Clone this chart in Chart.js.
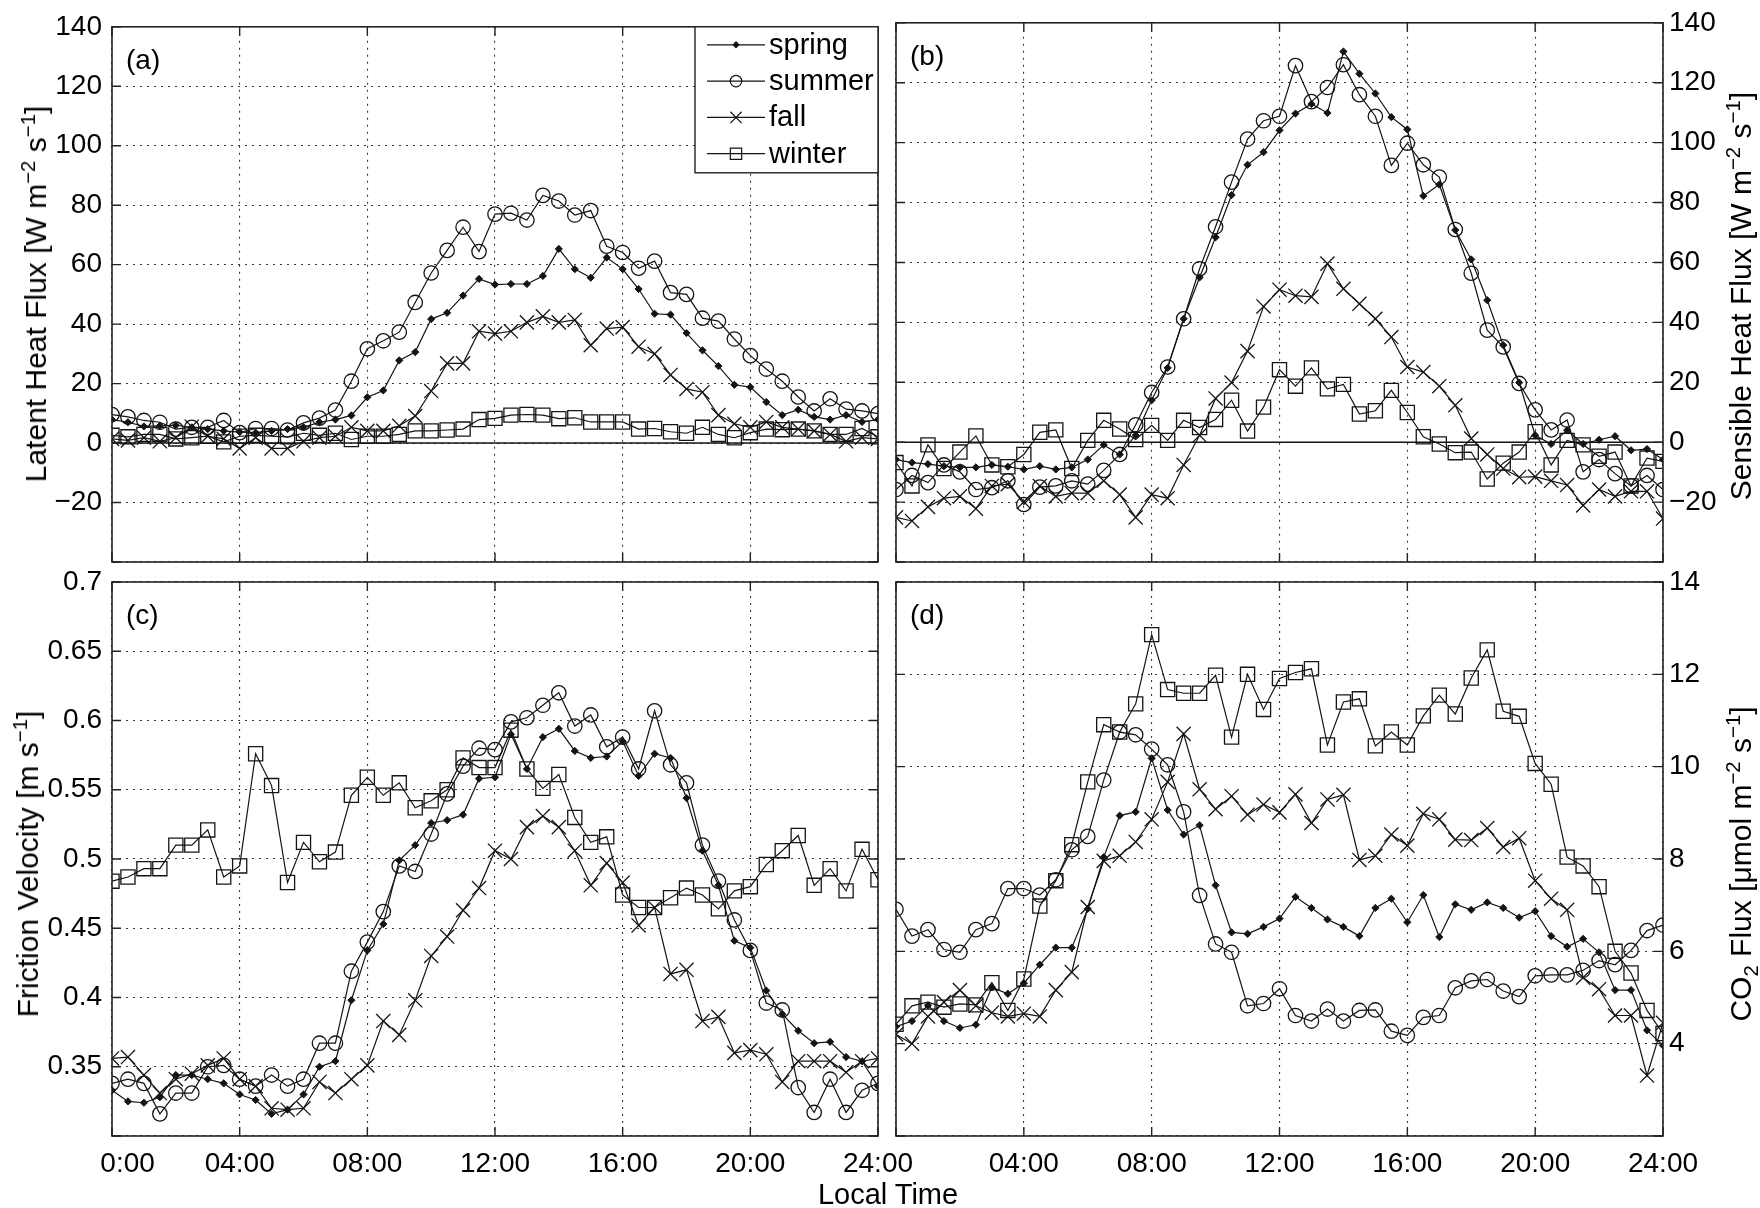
<!DOCTYPE html>
<html><head><meta charset="utf-8">
<script src="https://cdn.jsdelivr.net/npm/chart.js@4.4.1/dist/chart.umd.min.js"></script>
<style>
html,body{margin:0;padding:0;background:#fff;}
#wrap{position:relative;width:1760px;height:1208px;overflow:hidden;background:#fff;}
#wrap canvas{position:absolute;left:0;top:0;width:1760px;height:1208px;}
.t{position:absolute;font-family:"Liberation Sans",Arial,Helvetica,sans-serif;font-size:30px;color:#000;white-space:nowrap;line-height:1;}
.rot{transform:translate(-50%,-50%) rotate(-90deg);}
.ctr{transform:translate(-50%,-50%);}
sup,sub{font-size:0.68em;line-height:0;}
</style></head><body>
<div id="wrap">
<canvas id="ca" width="1760" height="1208"></canvas>
<canvas id="cb" width="1760" height="1208"></canvas>
<canvas id="cc" width="1760" height="1208"></canvas>
<canvas id="cd" width="1760" height="1208"></canvas>
<div class="t rot" style="left:36px;top:294px">Latent Heat Flux [W m<sup>−2</sup> s<sup>−1</sup>]</div>
<div class="t rot" style="left:1741px;top:296px">Sensible Heat Flux [W m<sup>−2</sup> s<sup>−1</sup>]</div>
<div class="t rot" style="left:28px;top:864px">Friction Velocity [m s<sup>−1</sup>]</div>
<div class="t rot" style="left:1741px;top:864px">CO<sub>2</sub> Flux [μmol m<sup>−2</sup> s<sup>−1</sup>]</div>
<div class="t ctr" style="left:888px;top:1194px;font-size:29px">Local Time</div>
</div>
<script>
// ---------- categories / ticks ----------
const hours = [0,0.5,1,1.5,2,2.5,3,3.5,4,4.5,5,5.5,6,6.5,7,7.5,8,8.5,9,9.5,10,10.5,11,11.5,
               12,12.5,13,13.5,14,14.5,15,15.5,16,16.5,17,17.5,18,18.5,19,19.5,20,20.5,21,21.5,22,22.5,23,23.5,24];
const seasons = ['spring','summer','fall','winter'];
const xTickValues = [0,4,8,12,16,20,24];
const xTickLabels = ['0:00','04:00','08:00','12:00','16:00','20:00','24:00'];
const fluxTicks = [-40,-20,0,20,40,60,80,100,120,140];
const fluxTickLabels = ['','−20','0','20','40','60','80','100','120','140'];
const ustarTicks = [0.3,0.35,0.4,0.45,0.5,0.55,0.6,0.65,0.7];
const ustarTickLabels = ['','0.35','0.4','0.45','0.5','0.55','0.6','0.65','0.7'];
const co2Ticks = [2,4,6,8,10,12,14];
const co2TickLabels = ['','4','6','8','10','12','14'];

// ---------- (a) latent heat flux ----------
const latentSpring = [7.9,7.0,5.6,5.8,6.0,5.3,4.7,4.1,3.7,3.5,4.1,4.7,5.3,7.0,7.9,9.3,15.4,17.7,27.8,30.6,41.7,43.8,49.6,55.2,
  53.3,53.5,53.5,56.2,65.3,58.5,55.6,62.4,58.5,51.8,43.5,43.2,37.0,31.2,25.9,19.6,18.8,13.8,9.4,11.2,8.8,7.9,9.4,7.1,7.9];
const latentSummer = [9.6,8.8,7.6,7.0,4.7,5.3,5.3,7.6,3.5,4.9,4.9,4.4,6.8,8.4,11.1,20.8,31.7,34.4,37.3,47.3,57.2,64.8,72.6,64.4,
  77.0,77.3,75.0,83.3,81.4,76.7,78.2,66.2,64.1,58.8,61.2,50.6,50.0,42.0,41.0,35.0,29.4,24.9,20.8,15.5,10.8,14.9,11.4,10.8,9.9];
const latentFall = [1.4,0.9,1.8,0.6,1.8,5.5,2.3,1.4,-1.8,1.8,-1.8,-1.8,0.6,1.8,2.3,5.3,4.1,4.1,5.8,9.1,17.5,26.8,26.8,37.6,
  36.8,37.6,40.6,42.6,40.6,41.4,32.9,38.5,39.0,32.4,30.0,22.9,18.2,17.1,9.4,6.5,5.3,7.1,5.3,4.7,4.1,2.9,0.6,1.8,1.4];
const latentWinter = [2.6,2.1,2.9,2.9,1.4,1.8,2.3,0.4,2.3,2.6,2.3,2.1,3.3,2.6,3.3,1.2,2.3,2.3,2.9,4.1,4.1,4.4,4.7,7.9,
  8.3,9.4,9.6,9.4,8.2,8.5,7.1,7.1,7.1,4.7,4.9,3.8,3.3,5.3,2.9,1.8,3.5,4.7,4.5,4.7,4.1,2.9,2.9,4.9,2.1];

// ---------- (b) sensible heat flux ----------
const sensibleSpring = [-5.8,-6.8,-7.3,-8.0,-8.4,-8.4,-7.6,-8.2,-9.1,-8.0,-9.1,-8.4,-5.8,-0.9,-4.1,2.3,14.0,24.8,41.2,55.0,68.4,82.5,92.6,96.8,
  104.1,109.7,112.9,109.9,130.4,123.0,116.4,108.5,104.4,82.2,86.0,70.8,61.0,47.4,32.4,19.9,2.3,-0.6,4.0,-0.6,0.8,2.0,-2.7,-2.3,-5.8];
const sensibleSummer = [-15.8,-11.1,-13.5,-7.6,-9.9,-15.8,-15.2,-12.9,-20.8,-15.0,-14.6,-12.9,-14.0,-9.4,-4.1,5.8,16.6,25.1,41.2,57.9,71.9,86.8,101.2,107.3,
  108.8,125.7,113.7,118.4,126.0,116.0,108.8,92.4,99.8,92.6,88.5,71.0,56.4,37.4,31.8,19.6,10.8,4.1,7.4,-9.9,-5.8,-10.5,-14.6,-11.1,-15.8];
const sensibleFall = [-25.1,-26.3,-21.6,-18.7,-18.1,-22.2,-14.6,-14.0,-19.9,-14.6,-18.1,-17.0,-17.0,-12.9,-17.5,-25.1,-17.5,-18.7,-7.6,2.3,14.6,19.9,30.4,45.3,
  50.9,48.9,48.5,59.6,51.2,46.2,41.2,35.1,25.1,23.4,18.7,12.3,1.2,-4.1,-8.8,-11.7,-11.5,-12.9,-14.3,-21.1,-15.8,-18.1,-16.4,-16.4,-25.5];
const sensibleWinter = [-6.8,-14.6,-0.9,-8.8,-3.3,2.1,-7.6,-8.2,-4.1,3.3,4.1,-8.8,0.6,7.3,4.4,0.9,5.6,0.6,7.3,4.9,7.6,14.0,3.7,11.7,
  24.2,18.7,24.8,17.8,19.3,9.4,10.5,17.3,9.9,1.8,-0.6,-3.5,-3.3,-12.3,-7.0,-3.3,3.5,-7.6,0.6,-0.9,-4.7,-3.3,-14.6,-5.3,-6.4];

// ---------- (c) friction velocity ----------
const ustarSpring = [0.333,0.325,0.324,0.328,0.344,0.344,0.341,0.338,0.330,0.326,0.316,0.319,0.330,0.350,0.354,0.398,0.434,0.453,0.499,0.510,0.526,0.528,0.532,0.558,
  0.559,0.590,0.565,0.588,0.594,0.578,0.573,0.574,0.585,0.560,0.576,0.573,0.544,0.506,0.481,0.441,0.436,0.405,0.388,0.376,0.367,0.368,0.357,0.354,0.336];
const ustarSummer = [0.338,0.341,0.338,0.316,0.331,0.331,0.350,0.351,0.341,0.336,0.344,0.336,0.341,0.367,0.367,0.419,0.440,0.462,0.495,0.491,0.518,0.547,0.567,0.580,
  0.579,0.599,0.602,0.611,0.620,0.596,0.604,0.581,0.588,0.565,0.607,0.568,0.555,0.510,0.484,0.456,0.434,0.396,0.391,0.335,0.317,0.341,0.317,0.333,0.338];
const ustarFall = [0.356,0.357,0.344,0.331,0.341,0.345,0.351,0.356,0.341,0.336,0.320,0.319,0.320,0.339,0.331,0.341,0.351,0.383,0.373,0.398,0.430,0.444,0.463,0.479,
  0.506,0.500,0.523,0.531,0.523,0.506,0.481,0.497,0.483,0.452,0.465,0.417,0.420,0.383,0.386,0.360,0.362,0.359,0.339,0.354,0.354,0.354,0.346,0.354,0.356];
const ustarWinter = [0.484,0.487,0.493,0.493,0.510,0.510,0.521,0.487,0.495,0.576,0.553,0.483,0.512,0.498,0.505,0.546,0.559,0.546,0.555,0.537,0.542,0.550,0.573,0.566,
  0.566,0.593,0.565,0.551,0.561,0.530,0.512,0.516,0.474,0.465,0.465,0.472,0.479,0.474,0.464,0.477,0.480,0.496,0.506,0.517,0.481,0.493,0.477,0.507,0.485];

// ---------- (d) CO2 flux ----------
const co2Spring = [4.37,4.49,4.83,4.49,4.34,4.41,5.22,5.08,5.31,5.71,6.08,6.08,6.92,8.04,8.94,9.02,10.18,9.06,8.53,8.73,7.43,6.41,6.38,6.53,
  6.71,7.18,6.94,6.69,6.53,6.33,6.94,7.14,6.63,7.22,6.31,7.02,6.90,7.06,6.94,6.73,6.87,6.33,6.10,6.27,5.98,5.16,5.16,4.29,3.96];
const co2Summer = [6.91,6.33,6.47,6.04,5.98,6.47,6.60,7.36,7.36,7.22,7.55,8.20,8.49,9.71,10.75,10.69,10.38,10.04,9.02,7.21,6.16,5.98,4.82,4.87,
  5.19,4.61,4.49,4.75,4.49,4.72,4.73,4.27,4.18,4.57,4.61,5.21,5.36,5.39,5.14,5.02,5.47,5.49,5.49,5.59,5.80,5.71,6.02,6.45,6.57];
const co2Fall = [4.20,4.00,4.59,4.90,5.16,4.82,4.67,4.59,4.65,4.59,5.16,5.55,6.96,7.96,8.07,8.37,8.86,9.67,10.71,9.51,9.08,9.36,8.96,9.18,
  9.01,9.40,8.78,9.29,9.39,7.98,8.07,8.53,8.29,8.98,8.86,8.42,8.41,8.67,8.26,8.45,7.53,7.14,6.90,5.43,5.18,4.61,4.61,3.31,4.45];
const co2Winter = [4.42,4.82,4.90,4.79,4.86,4.84,5.32,4.72,5.40,6.98,7.53,8.31,9.67,10.91,10.75,11.36,12.86,11.67,11.59,11.59,11.98,10.64,12.00,11.24,
  11.91,12.04,12.12,10.47,11.40,11.47,10.45,10.75,10.47,11.10,11.55,11.14,11.92,12.53,11.20,11.09,10.07,9.62,8.04,7.85,7.40,6.00,5.53,4.72,4.22];

// ---------- styles ----------
const FONT = '"Liberation Sans", Arial, Helvetica, sans-serif';
const INK = '#141414';
const markerStyle = {
  spring: {pointStyle:'rectRot', pointRadius:3.6, pointBackgroundColor:INK, pointBorderColor:INK, pointBorderWidth:1},
  summer: {pointStyle:'circle', pointRadius:7.2, pointBackgroundColor:'rgba(0,0,0,0)', pointBorderColor:INK, pointBorderWidth:1.3},
  fall:   {pointStyle:'crossRot', pointRadius:10, pointBackgroundColor:'rgba(0,0,0,0)', pointBorderColor:INK, pointBorderWidth:1.3},
  winter: {pointStyle:'rect', pointRadius:10, pointBackgroundColor:'rgba(0,0,0,0)', pointBorderColor:INK, pointBorderWidth:1.3}
};

const framePlugin = {
  id: 'frame',
  beforeDatasetsDraw(chart, args, o) {
    const {ctx, chartArea: ca, scales} = chart;
    if (o.zero) {
      const y = scales.y.getPixelForValue(0);
      ctx.save(); ctx.strokeStyle = INK; ctx.lineWidth = 1.6;
      ctx.beginPath(); ctx.moveTo(ca.left, y); ctx.lineTo(ca.right, y); ctx.stroke(); ctx.restore();
    }
  },
  afterDraw(chart, args, o) {
    const {ctx, chartArea: ca, scales} = chart;
    ctx.save();
    ctx.strokeStyle = '#222'; ctx.lineWidth = 1.6;
    ctx.strokeRect(ca.left, ca.top, ca.right - ca.left, ca.bottom - ca.top);
    ctx.lineWidth = 1.4;
    const L = 9;
    scales.x.ticks.forEach(t => {
      const x = scales.x.getPixelForValue(t.value);
      ctx.beginPath(); ctx.moveTo(x, ca.bottom); ctx.lineTo(x, ca.bottom - L);
      ctx.moveTo(x, ca.top); ctx.lineTo(x, ca.top + L); ctx.stroke();
    });
    scales.y.ticks.forEach(t => {
      const y = scales.y.getPixelForValue(t.value);
      ctx.beginPath(); ctx.moveTo(ca.left, y); ctx.lineTo(ca.left + L, y);
      ctx.moveTo(ca.right, y); ctx.lineTo(ca.right - L, y); ctx.stroke();
    });
    if (o.label) {
      ctx.fillStyle = '#000'; ctx.font = '28px ' + FONT;
      ctx.textAlign = 'left'; ctx.textBaseline = 'middle';
      ctx.fillText(o.label, ca.left + 14, ca.top + 34);
    }
    if (o.legend) {
      const bx = 695, by = ca.top, bw = ca.right - 695, bh = 146;
      ctx.fillStyle = '#fff'; ctx.fillRect(bx, by, bw, bh);
      ctx.strokeStyle = '#222'; ctx.lineWidth = 1.4; ctx.strokeRect(bx, by, bw, bh);
      chart.data.datasets.forEach((ds, i) => {
        const y = by + 18 + i * 36.3;
        ctx.strokeStyle = INK; ctx.lineWidth = 1.2;
        ctx.beginPath(); ctx.moveTo(bx + 12, y); ctx.lineTo(bx + 70, y); ctx.stroke();
        const m = markerStyle[seasons[i]];
        ctx.fillStyle = m.pointBackgroundColor; ctx.strokeStyle = INK; ctx.lineWidth = 1.2;
        Chart.helpers.drawPoint(ctx, {pointStyle: m.pointStyle, radius: m.pointRadius * 0.8, rotation: 0, borderWidth: 1.2}, bx + 41, y);
        ctx.fillStyle = '#000'; ctx.font = '29px ' + FONT;
        ctx.textAlign = 'left'; ctx.textBaseline = 'middle';
        ctx.fillText(ds.label, bx + 74, y + 1);
      });
    }
    ctx.restore();
  }
};

function makePanel(id, box, yPos, yMin, yMax, yTicks, yLabels, seriesArrays, showX, hideFirstX, extra) {
  const W = 1760, H = 1208;
  const xH = showX ? 52 : 1;
  const yW = yPos === 'left' ? box.left : W - box.right;
  const padding = {
    top: box.top,
    bottom: H - box.bottom - xH,
    left: yPos === 'left' ? 0 : box.left,
    right: yPos === 'left' ? W - box.right : 0
  };
  const datasets = seriesArrays.map((arr, i) => Object.assign({
    label: seasons[i],
    data: hours.map((h, k) => ({x: h, y: arr[k]})),
    borderColor: INK, borderWidth: 1.2, tension: 0, fill: false, pointHoverRadius: 0
  }, markerStyle[seasons[i]]));
  return new Chart(document.getElementById(id), {
    type: 'line',
    data: {datasets},
    plugins: [framePlugin],
    options: {
      responsive: false, animation: false, devicePixelRatio: 1,
      layout: {padding},
      plugins: {legend: {display: false}, tooltip: {enabled: false}, frame: extra},
      scales: {
        x: {
          type: 'linear', min: 0, max: 24,
          afterBuildTicks: s => { s.ticks = xTickValues.map(v => ({value: v})); },
          afterFit: s => { s.height = xH; },
          grid: {color: '#3a3a3a', lineWidth: 1.1, drawTicks: false},
          border: {display: false, dash: [2, 5]},
          ticks: {
            display: showX, padding: 11, color: '#000', maxRotation: 0, autoSkip: false,
            font: {family: FONT, size: 28},
            callback: (v, i) => {
              if (i === 0) return hideFirstX ? '' : '    ' + xTickLabels[0];
              return xTickLabels[i];
            }
          }
        },
        y: {
          type: 'linear', position: yPos, min: yMin, max: yMax,
          afterBuildTicks: s => { s.ticks = yTicks.map(v => ({value: v})); },
          afterFit: s => { s.width = yW; },
          grid: {color: '#3a3a3a', lineWidth: 1.1, drawTicks: false},
          border: {display: false, dash: [2, 5]},
          ticks: {
            padding: yPos === 'left' ? 10 : 6, color: '#000', autoSkip: false,
            font: {family: FONT, size: 28},
            callback: (v, i) => yLabels[i]
          }
        }
      }
    }
  });
}

makePanel('ca', {left:112, right:878, top:13, bottom:562}, 'left', -40, 140, fluxTicks, fluxTickLabels,
  [latentSpring, latentSummer, latentFall, latentWinter], false, false, {zero:true, label:'(a)', legend:true});
makePanel('cb', {left:896, right:1663, top:13, bottom:562}, 'right', -40, 140, fluxTicks, fluxTickLabels,
  [sensibleSpring, sensibleSummer, sensibleFall, sensibleWinter], false, false, {zero:true, label:'(b)'});
makePanel('cc', {left:112, right:878, top:582, bottom:1136}, 'left', 0.3, 0.7, ustarTicks, ustarTickLabels,
  [ustarSpring, ustarSummer, ustarFall, ustarWinter], true, false, {label:'(c)'});
makePanel('cd', {left:896, right:1663, top:582, bottom:1136}, 'right', 2, 14, co2Ticks, co2TickLabels,
  [co2Spring, co2Summer, co2Fall, co2Winter], true, true, {label:'(d)'});
</script>
</body></html>
